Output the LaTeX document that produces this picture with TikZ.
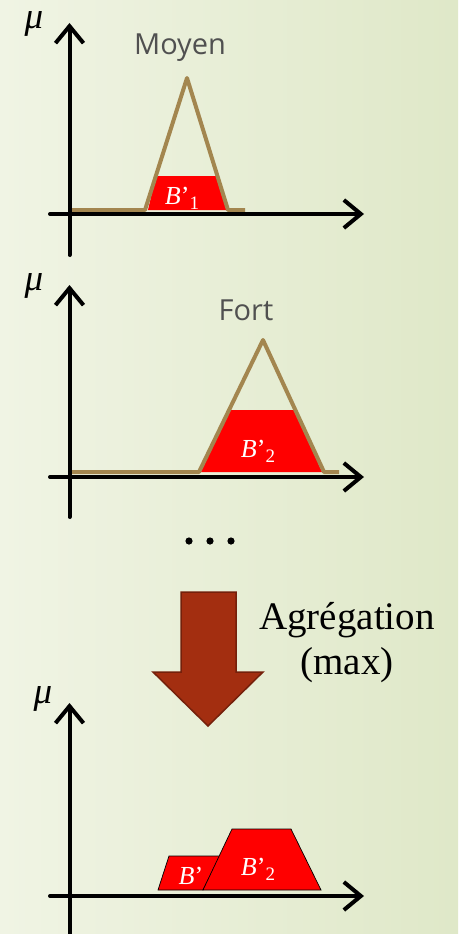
\documentclass[tikz,border=0pt]{standalone}
\usepackage{fontspec}
\setmainfont{Liberation Serif}
\newfontfamily\setfont{Open Sans}
\usetikzlibrary{arrows.meta}
\definecolor{bgleft}{HTML}{F0F4E4}
\definecolor{bgright}{HTML}{DFE8C8}
\definecolor{membcolor}{HTML}{A3864F}
\definecolor{cutcolor}{HTML}{FF0000}
\definecolor{aggcolor}{HTML}{A32E10}
\definecolor{aggborder}{HTML}{74200B}
\definecolor{setcolor}{HTML}{505050}
\newcommand{\bcut}[1]{\textit{B}’\raisebox{-5pt}{\fontsize{19}{19}\selectfont #1}}
\tikzset{
  agg axis/.style={black,line width=4pt,line cap=round,-{Straight Barb[length=17pt,width=28pt]}},
  agg member/.style={membcolor,line width=4pt,line join=round},
  agg cut/.style={fill=cutcolor},
  agg union/.style={fill=cutcolor,draw=black,line width=.7pt},
  agg mu/.style={font=\itshape\fontsize{37}{37}\selectfont},
  agg set/.style={text=setcolor,font=\setfont\fontsize{29}{29}\selectfont},
  agg lab/.style={text=white,font=\fontsize{26}{26}\selectfont},
  agg arrow/.style={fill=aggcolor,draw=aggborder,line width=1.5pt,line join=miter}
}
\begin{document}
\begin{tikzpicture}[x=1pt,y=-1pt]
  \useasboundingbox (0,0) rectangle (458,934);
  \shade[left color=bgleft,right color=bgright] (0,0) rectangle (458,934);
  % first rule : Moyen
  \fill[agg cut] (148,210)--(156,176)--(218,176)--(227,210)--cycle;
  \draw[agg member] (72,210)--(145,210)--(187,78)--(228,210)--(245,210);
  \draw[agg axis] (50,214)--(364,214);
  \draw[agg axis] (69.5,255)--(69.5,23);
  \node[agg mu] (mu1) at (34,24) {μ};
  \node[agg set] (moyen) at (180,48) {Moyen};
  \node[agg lab] (b1) at (182,198) {\bcut{1}};
  % second rule : Fort
  \fill[agg cut] (201,472)--(229,410)--(295,410)--(322,472)--cycle;
  \draw[agg member] (72,472)--(199,472)--(263,340)--(324,472)--(339,472);
  \draw[agg axis] (50,477)--(364,477);
  \draw[agg axis] (69.5,517)--(69.5,285);
  \node[agg mu] (mu2) at (34,286) {μ};
  \node[agg set] (fort) at (246,310) {Fort};
  \node[agg lab] (b2) at (258,451) {\bcut{2}};
  \foreach \x in {189,210,231}{\fill (\x,541) circle (3.6);}
  % aggregation
  \draw[agg arrow] (181,592)--(236,592)--(236,672)--(263,672)--(208,726)--(153,672)--(181,672)--cycle;
  \node[font=\fontsize{39}{45}\selectfont,align=center] (agg) at (347,643) {Agrégation\\(max)};
  % result
  \draw[agg union] (158,890)--(169,856)--(220,856)--(203,890)--cycle;
  \draw[agg union] (203,890)--(232,829)--(291,829)--(321,890)--cycle;
  \draw[agg axis] (50,896)--(364,896);
  \draw[agg axis] (69.5,940)--(69.5,703);
  \node[agg mu] (mu3) at (43,699) {μ};
  \node[agg lab] (b3) at (191,876) {\textit{B}’};
  \node[agg lab] (b4) at (258,869) {\bcut{2}};
\end{tikzpicture}
\end{document}
